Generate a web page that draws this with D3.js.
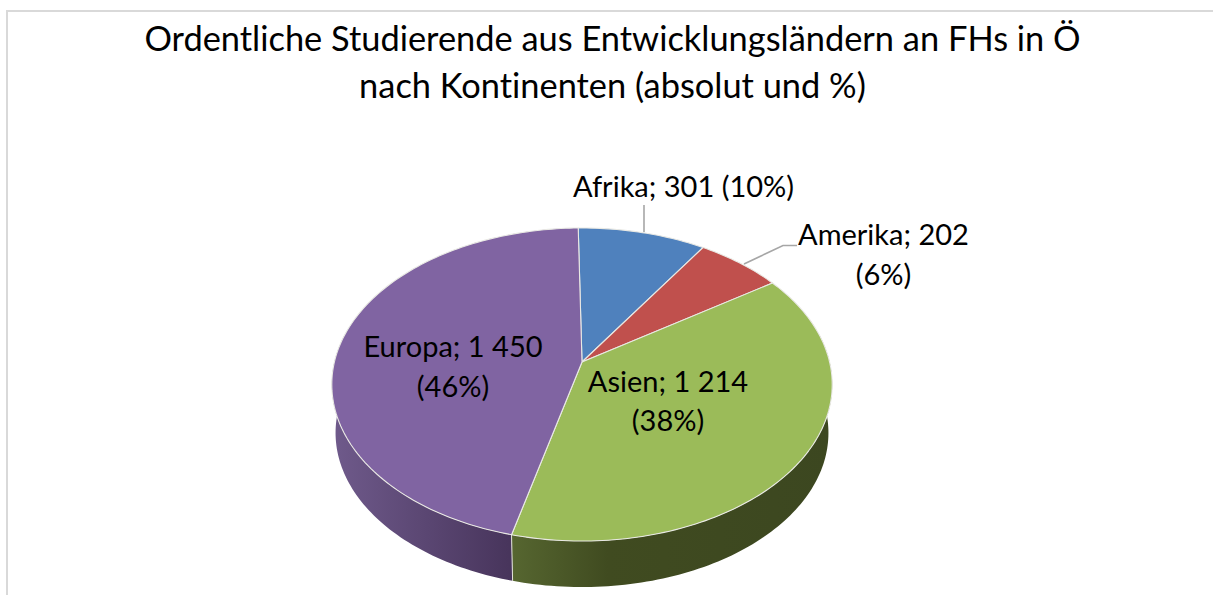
<!DOCTYPE html>
<html><head><meta charset="utf-8">
<style>html,body{margin:0;padding:0;background:#fff;overflow:hidden}svg{display:block}text{font-family:Lato,"Open Sans",sans-serif;fill:#000;font-variant-ligatures:none}</style>
<script src="https://cdn.jsdelivr.net/npm/d3@7"></script></head>
<body><svg id="c" width="1213" height="595"></svg>
<script>
const categories = ["Afrika","Amerika","Asien","Europa"];
const values = [301,202,1214,1450];
const valueLabels = ["301","202","1 214","1 450"];
const percentLabels = ["10%","6%","38%","46%"];
const colors = ["#4f81bd","#c0504d","#9bbb59","#8064a2"];
const titleLines = ["Ordentliche Studierende aus Entwicklungsländern an FHs in Ö","nach Kontinenten (absolut und %)"];

const svg = d3.select("#c");
const W=1213,H=595;
svg.append("rect").attr("width",W).attr("height",H).attr("fill","#fff");
svg.append("path").attr("d",`M7,${H}V11H${W}`).attr("fill","none").attr("stroke","#d9d9d9").attr("stroke-width",2);

const title = svg.append("g").attr("text-anchor","middle").attr("font-size",34.4);
titleLines.forEach((t,i)=>title.append("text").attr("x",612.5).attr("y",51+i*47).text(t));

// perspective projection of a tilted disc
const cx=582,cy=362,A=247.6,B=153.3,k=0.1438,depthShift=48.7,depthScale=0.985;
function proj(a,low){const u=Math.sin(a),v=-Math.cos(a),w=1-k*v;
  const s=low?depthScale:1;
  return [cx+s*A*u/w, cy+(low?depthShift:0)+s*B*v/w];}
function range(a0,a1){const n=Math.max(2,Math.ceil(Math.abs(a1-a0)/0.02));
  return d3.range(n+1).map(i=>a0+(a1-a0)*i/n);}
const rad=d=>d*Math.PI/180;
const pie=d3.pie().sort(null).startAngle(rad(-1)).endAngle(rad(359));
const arcs=pie(values);
const line=d3.line();

const defs=svg.append("defs");
function grad(id,x0,x1,stops){const g=defs.append("linearGradient").attr("id",id).attr("gradientUnits","userSpaceOnUse").attr("x1",x0).attr("x2",x1).attr("y1",0).attr("y2",0);
  stops.forEach(s=>g.append("stop").attr("offset",s[0]).attr("stop-color",s[1]));}
grad("side3",512,832,[[0,"#566630"],[0.3,"#404b20"],[1,"#3c4720"]]);
grad("side4",333,513,[[0,"#6f5a8b"],[1,"#47345b"]]);

// side walls (only the front part is ever seen)
[2,3].forEach(i=>{
  const d=arcs[i];
  const a0=i===2?rad(80):d.startAngle, a1=i===3?rad(280):d.endAngle;
  const pts=range(a0,a1).map(a=>proj(a,false)).concat(range(a1,a0).map(a=>proj(a,true)));
  svg.append("path").attr("d",line(pts)+"Z").attr("fill",`url(#side${i+1})`).attr("stroke","none");
});
// seam between the walls
const seam=arcs[2].endAngle;
svg.append("path").attr("d",line([proj(seam,false),proj(seam,true)])).attr("stroke","#e4e4dc").attr("stroke-width",1).attr("fill","none");

// top face
arcs.forEach((d,i)=>{
  const pts=[[cx,cy]].concat(range(d.startAngle,d.endAngle).map(a=>proj(a,false)));
  svg.append("path").attr("d",line(pts)+"Z").attr("fill",colors[i]).attr("stroke","#e9e9e4").attr("stroke-width",1.1).attr("stroke-linejoin","round");
});

// leader lines
svg.append("path").attr("d",line([[644,205],[644,232]])).attr("stroke","#a6a6a6").attr("stroke-width",1.6).attr("fill","none");
svg.append("path").attr("d",line([[797,245.5],[783,245.5],[744,264]])).attr("stroke","#a6a6a6").attr("stroke-width",1.6).attr("fill","none");

// data labels
const fs=29;
const lab=svg.append("g").attr("text-anchor","middle").attr("font-size",fs);
lab.append("text").attr("x",683.5).attr("y",197).text(`${categories[0]}; ${valueLabels[0]} (${percentLabels[0]})`);
lab.append("text").attr("x",883.5).attr("y",245).text(`${categories[1]}; ${valueLabels[1]}`);
lab.append("text").attr("x",883.5).attr("y",285).text(`(${percentLabels[1]})`);
lab.append("text").attr("x",668).attr("y",392).text(`${categories[2]}; ${valueLabels[2]}`);
lab.append("text").attr("x",668).attr("y",431).text(`(${percentLabels[2]})`);
lab.append("text").attr("x",453).attr("y",357).text(`${categories[3]}; ${valueLabels[3]}`);
lab.append("text").attr("x",453).attr("y",397).text(`(${percentLabels[3]})`);
</script></body></html>
